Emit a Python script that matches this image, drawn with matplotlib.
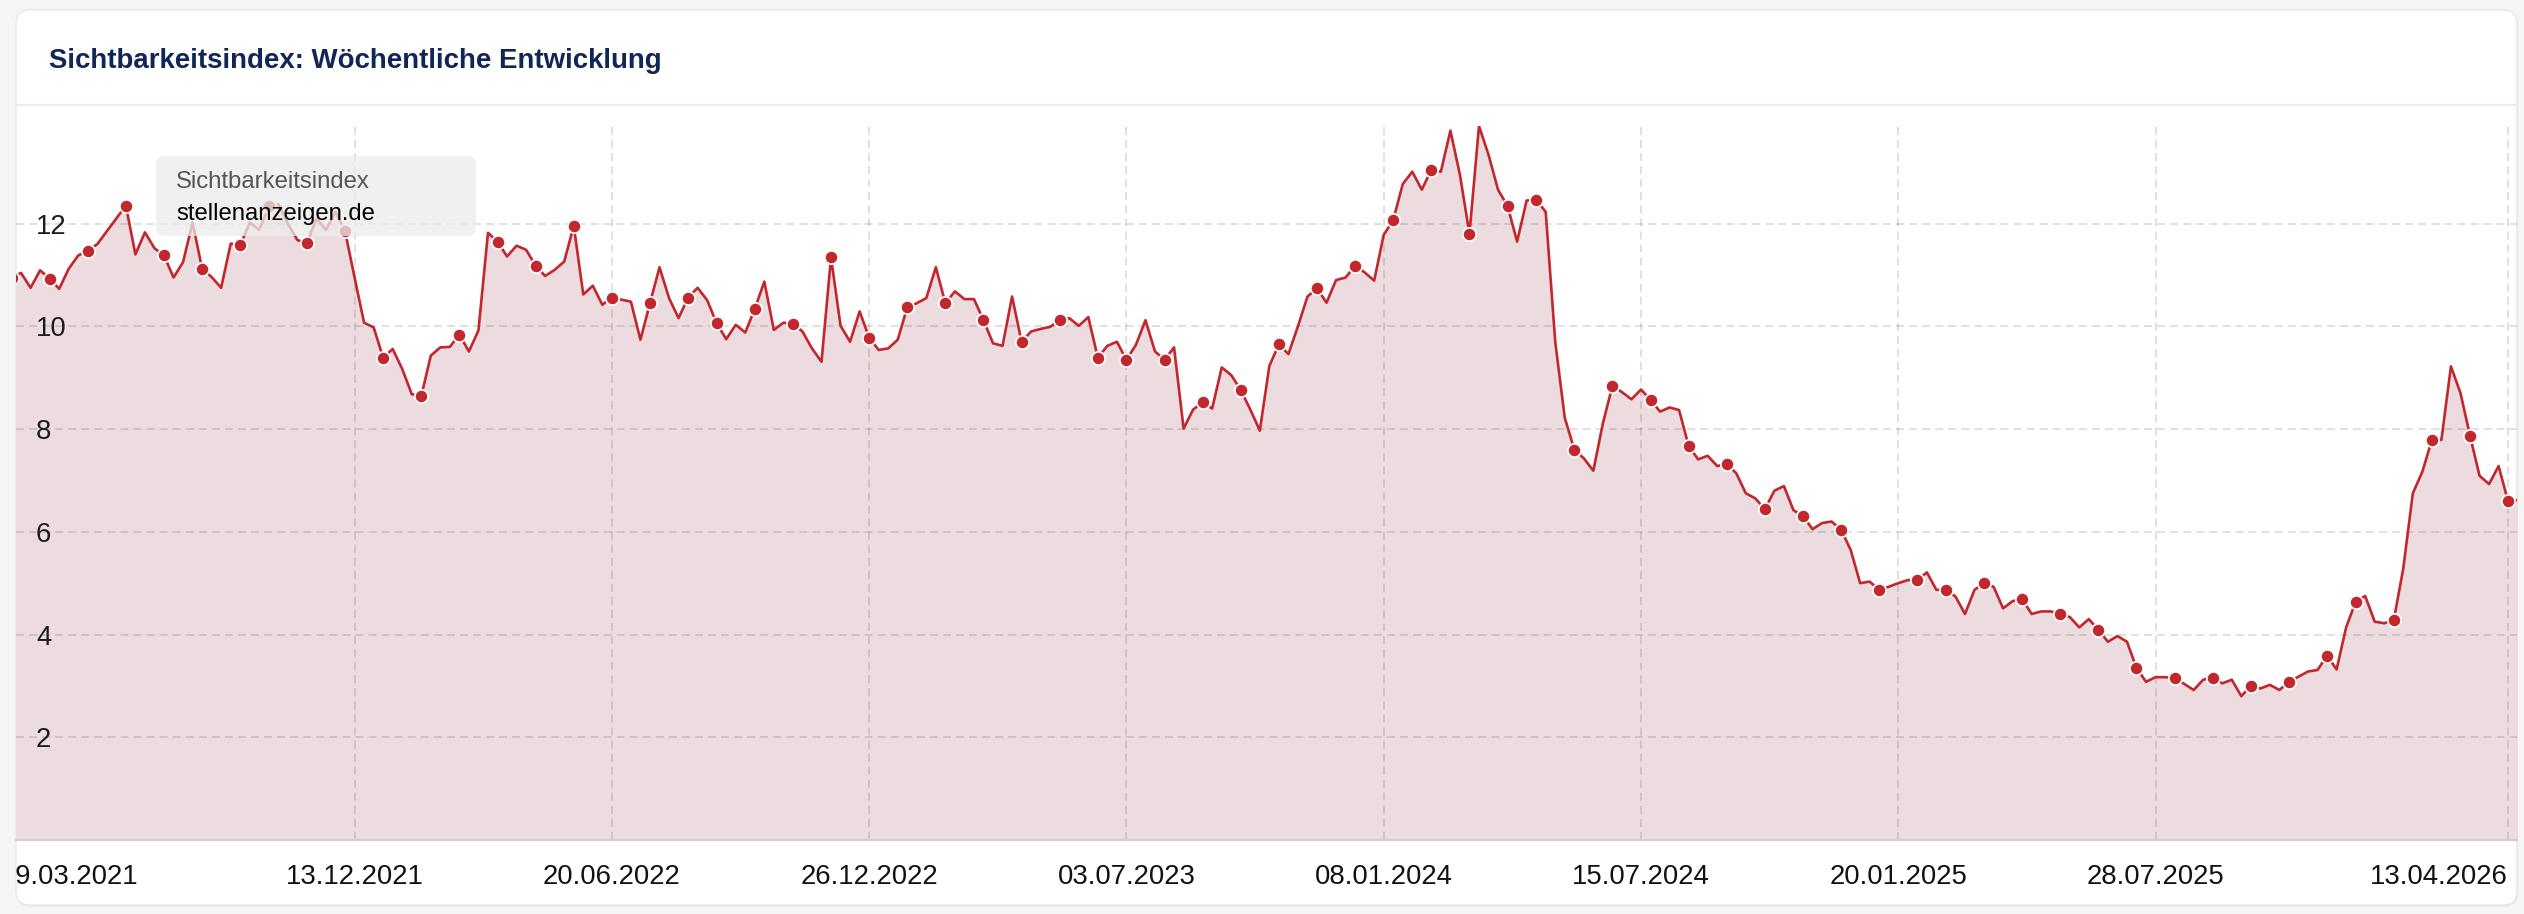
import matplotlib
matplotlib.use("Agg")
import matplotlib.pyplot as plt
import matplotlib.dates as mdates
from matplotlib.patches import FancyBboxPatch
from matplotlib.lines import Line2D
from matplotlib.transforms import (Bbox, TransformedBbox, IdentityTransform,
                                   blended_transform_factory, ScaledTranslation)
import pandas as pd

# ---------------- data ----------------
title = "Sichtbarkeitsindex: Wöchentliche Entwicklung"
tooltip_title = "Sichtbarkeitsindex"
tooltip_domain = "stellenanzeigen.de"

first_week = "2021-04-05"   # weekly values, one per Monday
values = [
    10.95, 11.04, 10.75, 11.09, 10.93, 10.73, 11.12, 11.38, 11.47, 11.60,
    11.85, 12.10, 12.35, 11.40, 11.83, 11.52, 11.38, 10.95, 11.25, 12.02,
    11.12, 10.96, 10.75, 11.61, 11.58, 12.02, 11.88, 12.34, 12.38, 12.00,
    11.68, 11.62, 12.10, 11.88, 12.23, 11.85, 10.95, 10.07, 9.98, 9.39,
    9.56, 9.17, 8.68, 8.64, 9.43, 9.59, 9.60, 9.84, 9.51, 9.92,
    11.82, 11.65, 11.36, 11.57, 11.49, 11.18, 10.98, 11.10, 11.26, 11.96,
    10.62, 10.79, 10.42, 10.56, 10.52, 10.48, 9.74, 10.45, 11.15, 10.55,
    10.16, 10.56, 10.75, 10.51, 10.06, 9.75, 10.03, 9.88, 10.34, 10.87,
    9.93, 10.07, 10.05, 9.90, 9.57, 9.31, 11.34, 10.01, 9.70, 10.29,
    9.78, 9.54, 9.57, 9.74, 10.37, 10.45, 10.55, 11.15, 10.45, 10.68,
    10.53, 10.53, 10.12, 9.67, 9.62, 10.58, 9.70, 9.90, 9.95, 9.99,
    10.12, 10.16, 10.01, 10.18, 9.39, 9.62, 9.70, 9.35, 9.64, 10.12,
    9.51, 9.35, 9.59, 8.01, 8.38, 8.52, 8.40, 9.20, 9.05, 8.76,
    8.38, 7.97, 9.23, 9.65, 9.46, 10.00, 10.58, 10.74, 10.46, 10.90,
    10.95, 11.18, 11.05, 10.89, 11.78, 12.07, 12.77, 13.01, 12.66, 13.05,
    13.01, 13.81, 12.95, 11.80, 13.90, 13.34, 12.66, 12.34, 11.65, 12.45,
    12.46, 12.23, 9.70, 8.22, 7.60, 7.43, 7.19, 8.11, 8.84, 8.72,
    8.58, 8.77, 8.57, 8.34, 8.42, 8.37, 7.67, 7.41, 7.48, 7.28,
    7.32, 7.14, 6.75, 6.65, 6.44, 6.80, 6.89, 6.42, 6.31, 6.05,
    6.17, 6.20, 6.04, 5.65, 5.00, 5.03, 4.87, 4.93, 5.00, 5.06,
    5.06, 5.21, 4.87, 4.87, 4.74, 4.40, 4.87, 5.00, 4.93, 4.51,
    4.65, 4.69, 4.40, 4.45, 4.45, 4.40, 4.34, 4.14, 4.30, 4.09,
    3.86, 3.97, 3.86, 3.35, 3.08, 3.17, 3.17, 3.15, 3.04, 2.92,
    3.12, 3.16, 3.05, 3.12, 2.80, 3.00, 2.95, 3.02, 2.92, 3.08,
    3.18, 3.28, 3.31, 3.59, 3.32, 4.14, 4.64, 4.75, 4.25, 4.22,
    4.28, 5.29, 6.75, 7.17, 7.79, 7.79, 9.22, 8.70, 7.87, 7.09,
    6.93, 7.28, 6.59, 6.62,
]
# weeks (1 = first value) that carry a marker dot
marker_weeks = [1, 5, 9, 13, 17, 21, 25, 28, 32, 36, 40, 44, 48, 52, 56, 60,
                64, 68, 72, 75, 79, 83, 87, 91, 95, 99, 103, 107, 111, 115,
                118, 122, 126, 130, 134, 138, 142, 146, 150, 154, 158, 161,
                165, 169, 173, 177, 181, 185, 189, 193, 197, 201, 204, 208,
                212, 216, 220, 224, 228, 232, 236, 240, 244, 247, 251, 255,
                259, 263]
x_tick_dates = ["2021-03-29", "2021-12-13", "2022-06-20", "2022-12-26",
                "2023-07-03", "2024-01-08", "2024-07-15", "2025-01-20",
                "2025-07-28", "2026-04-13"]
x_tick_labels = ["29.03.2021", "13.12.2021", "20.06.2022", "26.12.2022",
                 "03.07.2023", "08.01.2024", "15.07.2024", "20.01.2025",
                 "28.07.2025", "13.04.2026"]
y_ticks = [2, 4, 6, 8, 10, 12]
y_max = 13.9

# ---------------- styling ----------------
W, H, DPI = 2524, 914, 100
plt.rcParams["lines.scale_dashes"] = False
FONT = "Liberation Sans"
LINE_C = "#c1272d"
FILL_C = "#eddcdf"

fig = plt.figure(figsize=(W / DPI, H / DPI), dpi=DPI)
fig.patch.set_facecolor("#f5f5f5")
px = IdentityTransform()

# card + shadow
shadow = FancyBboxPatch((17, H - 907), 2501, 895,
                        boxstyle="round,pad=0,rounding_size=14",
                        fc="#e9e9e9", ec="none", transform=px, zorder=-3)
card = FancyBboxPatch((16, H - 905), 2501, 895,
                      boxstyle="round,pad=0,rounding_size=14",
                      fc="white", ec="#e4e4e4", lw=0.8, transform=px, zorder=-2)
fig.add_artist(shadow)
fig.add_artist(card)

# header separator
fig.add_artist(Line2D([16, 2517], [H - 105, H - 105], color="#ebebeb",
                      lw=1.6, transform=px, zorder=-1))

# title
fig.text(49 / W, 1 - 68 / H, title, fontsize=19.9, fontweight="bold",
         family=FONT, color="#0f2657", ha="left", va="baseline")

# plot area
L, R, T, B = 16, 2517, 126, 840
ax = fig.add_axes([L / W, 1 - B / H, (R - L) / W, (B - T) / H])
ax.set_facecolor("none")
for s in ax.spines.values():
    s.set_visible(False)

dates = pd.date_range(first_week, periods=len(values), freq="7D")
xd = mdates.date2num(dates.to_pydatetime())
origin = pd.Timestamp("2021-03-29")
week_px = 9.529
x_left = mdates.date2num((origin + pd.Timedelta(days=7 * (L - 2) / week_px)).to_pydatetime())
x_right = mdates.date2num((origin + pd.Timedelta(days=7 * (R - 2) / week_px)).to_pydatetime())
ax.set_xlim(x_left, x_right)
ax.set_ylim(0, y_max)
ax.set_xticks([])
ax.set_yticks([])

ax.fill_between(xd, values, 0, color=FILL_C, lw=0, zorder=1)

grid_kw = dict(color="black", alpha=0.12, lw=1.44,
               linestyle=(0, (5.8, 3.6)), zorder=2)
for yv in y_ticks:
    ax.axhline(yv, **grid_kw)
tick_nums = mdates.date2num(pd.to_datetime(x_tick_dates).to_pydatetime())
for xv in tick_nums:
    ax.axvline(xv, **grid_kw)

ax.axhline(0, color="#cfcfcf", lw=1.5, zorder=3, clip_on=False)

ax.plot(xd, values, color=LINE_C, lw=1.9, solid_joinstyle="round", zorder=4)
mx = [xd[w - 1] for w in marker_weeks]
my = [values[w - 1] for w in marker_weeks]
ax.plot(mx, my, ls="none", marker="o", ms=9.6, mfc=LINE_C, mec="white",
        mew=1.3, zorder=5)

# y labels inside the plot
ytr = ax.get_yaxis_transform() + ScaledTranslation(0, -10 / DPI, fig.dpi_scale_trans)
for yv in y_ticks:
    ax.text((36 - L) / (R - L), yv, str(yv), transform=ytr, ha="left",
            va="baseline", fontsize=19.8, family=FONT, color="#1c1c1c", zorder=6)

# x labels
clip = TransformedBbox(Bbox([[L, 0], [R, H]]), px)
xtr = blended_transform_factory(ax.transData, fig.transFigure)
n_ticks = len(tick_nums)
for k, (xv, lab) in enumerate(zip(tick_nums, x_tick_labels)):
    if xv < x_left:
        t = fig.text(1 / W, 1 - 884 / H, lab, ha="left", va="baseline",
                     fontsize=19.8, family=FONT, color="#111111")
    else:
        ha = "right" if k == n_ticks - 1 else "center"
        t = fig.text(xv, 1 - 884 / H, lab, transform=xtr, ha=ha,
                     va="baseline", fontsize=19.8, family=FONT, color="#111111")
    t.set_clip_box(clip)
    t.set_clip_on(True)

# tooltip
tip = FancyBboxPatch((156, H - 236), 320, 80,
                     boxstyle="round,pad=0,rounding_size=9",
                     fc="#ececec", ec="none", alpha=0.75, transform=px, zorder=10)
fig.add_artist(tip)
fig.text(176 / W, 1 - 188 / H, tooltip_title, fontsize=17.2, family=FONT,
         color="#555555", ha="left", va="baseline", zorder=11)
fig.text(176 / W, 1 - 220 / H, tooltip_domain, fontsize=17.2, family=FONT,
         color="#000000", ha="left", va="baseline", zorder=11)

fig.savefig("out.png", dpi=DPI, facecolor=fig.get_facecolor())
